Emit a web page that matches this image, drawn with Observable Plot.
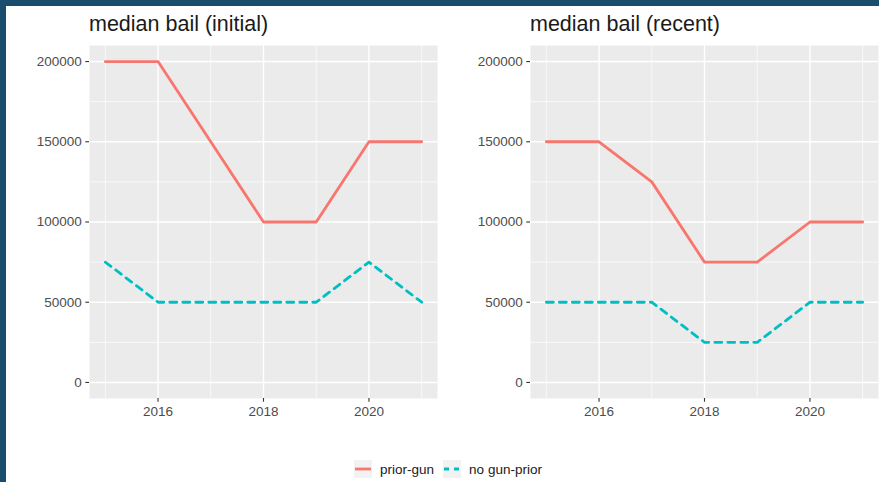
<!DOCTYPE html>
<html>
<head>
<meta charset="utf-8">
<script src="https://cdn.jsdelivr.net/npm/d3@7"></script>
<script src="https://cdn.jsdelivr.net/npm/@observablehq/plot@0.6"></script>
<style>
  html, body { margin: 0; padding: 0; }
  body { width: 879px; height: 482px; position: relative; overflow: hidden; background: #1a4c6d; font-family: "Liberation Sans", Arial, sans-serif; }
  #inner { position: absolute; left: 6px; top: 6px; right: 0; bottom: 0; background: #ffffff; }
  .title { position: absolute; font-size: 21.5px; color: #1a1a1a; white-space: nowrap; line-height: 1; }
  .panel { position: absolute; }
  #legend { position: absolute; top: 460px; left: 0; width: 879px; display: flex; justify-content: center; align-items: center; font-size: 13.5px; color: #1a1a1a; padding-left: 26px; box-sizing: border-box; }
  #legend .item { display: flex; align-items: center; margin-right: 9px; }
  #legend svg { margin-right: 8px; }
</style>
</head>
<body>
<div id="inner"></div>
<div class="title" id="t1" style="left:89px; top:14px;"></div>
<div class="title" id="t2" style="left:530px; top:14px;"></div>
<div class="panel" id="p1" style="left:0px; top:40px;"></div>
<div class="panel" id="p2" style="left:440px; top:40px;"></div>
<div id="legend"></div>
<script>
// ---- data ----
const years = [2015, 2016, 2017, 2018, 2019, 2020, 2021];
const seriesNames = ["prior-gun", "no gun-prior"];
const seriesColors = ["#F8766D", "#00BFC4"];
const panelTitles = ["median bail (initial)", "median bail (recent)"];
const initialPriorGun = [200000, 200000, 150000, 100000, 100000, 150000, 150000];
const initialNoGun = [75000, 50000, 50000, 50000, 50000, 75000, 50000];
const recentPriorGun = [150000, 150000, 125000, 75000, 75000, 100000, 100000];
const recentNoGun = [50000, 50000, 50000, 25000, 25000, 50000, 50000];
const xTicks = [2016, 2018, 2020];
const xMinor = [2015, 2017, 2019, 2021];
const yTicks = [0, 50000, 100000, 150000, 200000];
const yMinor = [25000, 75000, 125000, 175000];

function toRows(a, b) {
  const rows = [];
  years.forEach((y, i) => rows.push({year: y, value: a[i], series: seriesNames[0]}));
  years.forEach((y, i) => rows.push({year: y, value: b[i], series: seriesNames[1]}));
  return rows;
}

function panel(rows, width, marginLeft, marginRight) {
  return Plot.plot({
    width, height: 388,
    marginLeft, marginRight, marginTop: 5, marginBottom: 30,
    style: {fontFamily: "'Liberation Sans', Arial, sans-serif", fontSize: "13.5px", color: "#4d4d4d", background: "transparent", overflow: "visible"},
    x: {domain: [2014.7, 2021.3], label: null},
    y: {domain: [-10000, 210000], label: null},
    color: {domain: seriesNames, range: seriesColors},
    marks: [
      Plot.frame({fill: "#EBEBEB", stroke: null}),
      Plot.ruleY(yMinor, {stroke: "#ffffff", strokeWidth: 0.7}),
      Plot.ruleX(xMinor, {stroke: "#ffffff", strokeWidth: 0.7}),
      Plot.ruleY(yTicks, {stroke: "#ffffff", strokeWidth: 1.4}),
      Plot.ruleX(xTicks, {stroke: "#ffffff", strokeWidth: 1.4}),
      Plot.axisX({ticks: xTicks, tickFormat: d => String(d), tickSize: 3.7, tickPadding: 4, label: null, stroke: "#333333", fill: "#4d4d4d", strokeWidth: 1.1}),
      Plot.axisY({ticks: yTicks, tickFormat: d => String(d), tickSize: 3.7, tickPadding: 4, label: null, stroke: "#333333", fill: "#4d4d4d", strokeWidth: 1.1}),
      Plot.line(rows.filter(d => d.series === seriesNames[0]), {x: "year", y: "value", stroke: "series", strokeWidth: 2.8}),
      Plot.line(rows.filter(d => d.series === seriesNames[1]), {x: "year", y: "value", stroke: "series", strokeWidth: 2.8, strokeDasharray: "7,6"})
    ]
  });
}

document.getElementById("t1").textContent = panelTitles[0];
document.getElementById("t2").textContent = panelTitles[1];
document.getElementById("p1").appendChild(panel(toRows(initialPriorGun, initialNoGun), 445, 89, 8));
document.getElementById("p2").appendChild(panel(toRows(recentPriorGun, recentNoGun), 439, 90, 1));

// legend
const legend = document.getElementById("legend");
seriesNames.forEach((name, i) => {
  const item = document.createElement("div");
  item.className = "item";
  const dash = i === 1 ? ' stroke-dasharray="5,5"' : '';
  item.innerHTML = `<svg width="18" height="18"><rect width="18" height="18" fill="#F2F2F2"/><line x1="1" x2="17" y1="9" y2="9" stroke="${seriesColors[i]}" stroke-width="2.8"${dash}/></svg><span>${name}</span>`;
  legend.appendChild(item);
});
</script>
</body>
</html>
